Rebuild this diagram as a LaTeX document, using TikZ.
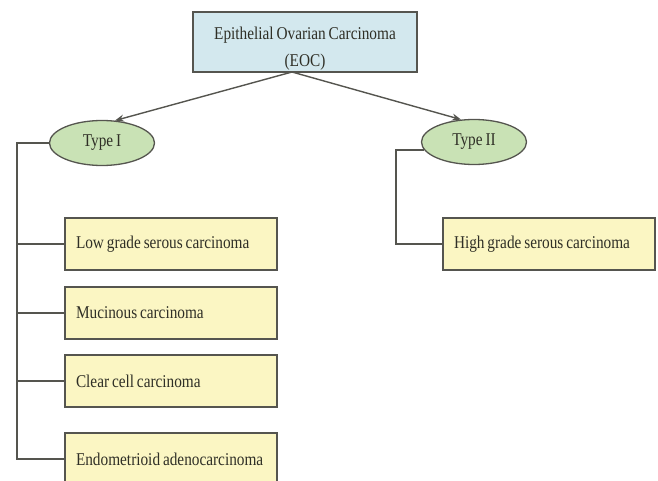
\documentclass[tikz,border=0pt]{standalone}
\usepackage{fontspec}
\setmainfont{Liberation Serif}[FakeStretch=0.85,WordSpace=0.75]
\usetikzlibrary{shapes.geometric,arrows.meta}
\definecolor{topfill}{HTML}{D3E8EE}
\definecolor{ellfill}{HTML}{C9E2B5}
\definecolor{boxfill}{HTML}{FBF6C3}
\definecolor{edge}{HTML}{55554F}
\definecolor{txt}{HTML}{2F2F26}
\begin{document}
\begin{tikzpicture}[x=1pt,y=-1pt,
  topbox/.style={draw=edge,line width=1.8pt,fill=topfill,minimum width=224pt,minimum height=60pt,inner sep=0pt,align=center,font=\fontsize{18}{27}\selectfont,text=txt},
  typeell/.style={ellipse,draw=edge,line width=1.3pt,fill=ellfill,minimum width=105pt,minimum height=45pt,inner sep=0pt,font=\fontsize{18}{20}\selectfont,text=txt},
  leafbox/.style={draw=edge,line width=1.4pt,fill=boxfill,minimum width=212pt,minimum height=52pt,inner sep=0pt,text width=190pt,align=flush left,font=\fontsize{18}{20}\selectfont,text=txt},
  conn/.style={draw=edge,line width=1.4pt},
  arr/.style={conn,-{Stealth[length=9pt,width=7pt]}}]
\useasboundingbox (0,0) rectangle (658,481);
\clip (0,0) rectangle (658,481);
\node[topbox] (eoc) at (305,42) {\rule{0pt}{26pt}Epithelial Ovarian Carcinoma\\(EOC)};
\node[typeell] (t1) at (102,143) {Type I};
\node[typeell] (t2) at (474,142) {Type II};
\node[leafbox] (a) at (171,244) {Low grade serous carcinoma};
\node[leafbox] (b) at (171,313) {Mucinous carcinoma};
\node[leafbox] (c) at (171,381) {Clear cell carcinoma};
\node[leafbox] (d) at (171,459) {Endometrioid adenocarcinoma};
\node[leafbox] (e) at (549,244) {High grade serous carcinoma};
\coordinate (top) at (292,72);
\coordinate (l1) at (17,143);
\coordinate (r1) at (396,150);
\draw[arr] (top) -- (t1.60);
\draw[arr] (top) -- (t2.120);
\draw[conn] (t1.west) -- (l1) |- (d.west);
\draw[conn] (l1 |- a.west) -- (a.west);
\draw[conn] (l1 |- b.west) -- (b.west);
\draw[conn] (l1 |- c.west) -- (c.west);
\draw[conn] (t2.189) -- (t2.189 -| r1) |- (e.west);
\end{tikzpicture}
\end{document}
